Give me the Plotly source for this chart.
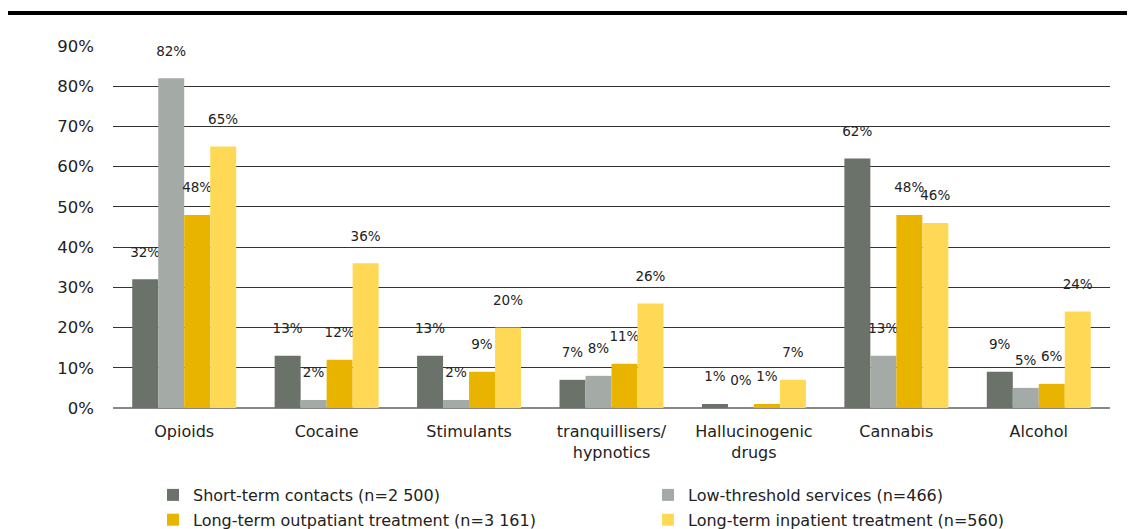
import plotly.graph_objects as go

categories = ["Opioids", "Cocaine", "Stimulants", "tranquillisers/<br>hypnotics",
              "Hallucinogenic<br>drugs", "Cannabis", "Alcohol"]
series_names = ["Short-term contacts (n=2 500)", "Low-threshold services (n=466)",
                "Long-term outpatiant treatment (n=3 161)", "Long-term inpatient treatment (n=560)"]
short_term = [32, 13, 13, 7, 1, 62, 9]
low_threshold = [82, 2, 2, 8, 0, 13, 5]
outpatient = [48, 12, 9, 11, 1, 48, 6]
inpatient = [65, 36, 20, 26, 7, 46, 24]
colors = ["#6a7269", "#a4aba6", "#e8b400", "#ffd956"]
legend_ids = ["legend", "legend2", "legend", "legend2"]
yticks = [0, 10, 20, 30, 40, 50, 60, 70, 80, 90]

FONT = "DejaVu Sans"
W, H = 1135, 529
fig = go.Figure()
for i, (name, vals, col, lg) in enumerate(zip(series_names, [short_term, low_threshold, outpatient, inpatient], colors, legend_ids)):
    fig.add_trace(go.Bar(
        x=categories, y=vals, name=name, legend=lg, legendgroup=f"g{i}",
        marker=dict(color=col, line=dict(width=0)),
        text=[f"{v}%<br><span style='font-size:8px'> </span>" for v in vals], textposition="outside",
        constraintext="none",
        textfont=dict(family=FONT, size=13.5, color="#222"), cliponaxis=False,
    ))

leg_common = dict(orientation="v", xref="container", yref="container",
                  xanchor="left", yanchor="top", font=dict(size=16, color="#222"),
                  itemwidth=30, tracegroupgap=1, bgcolor="rgba(0,0,0,0)")
fig.update_layout(
    width=W, height=H,
    margin=dict(l=105, r=33, t=38, b=129, autoexpand=False),
    paper_bgcolor="white", plot_bgcolor="white",
    barmode="group", bargap=0.27, bargroupgap=0,
    font=dict(family=FONT, size=16, color="#222"),
    xaxis=dict(showgrid=False, ticks="", tickfont=dict(size=16, color="#222"),
               showline=False, ticklabelstandoff=12, automargin=False),
    yaxis=dict(range=[0, 90], tickvals=yticks, ticktext=[f"{v}%" for v in yticks],
               showgrid=True, gridcolor="#333", gridwidth=1,
               zeroline=True, zerolinecolor="#888", zerolinewidth=2,
               tickfont=dict(size=16.5, color="#222"), ticks="", ticklabelstandoff=18,
               automargin=False),
    legend=dict(x=145 / W, y=1 - 470 / H, **leg_common),
    legend2=dict(x=640 / W, y=1 - 470 / H, **leg_common),
    showlegend=True,
    uniformtext=dict(mode=False),
    shapes=[dict(type="line", xref="paper", yref="paper", x0=-0.106, x1=1.04, y0=1.091, y1=1.091,
                 line=dict(color="black", width=4))],
)
fig.write_html("out.html")
